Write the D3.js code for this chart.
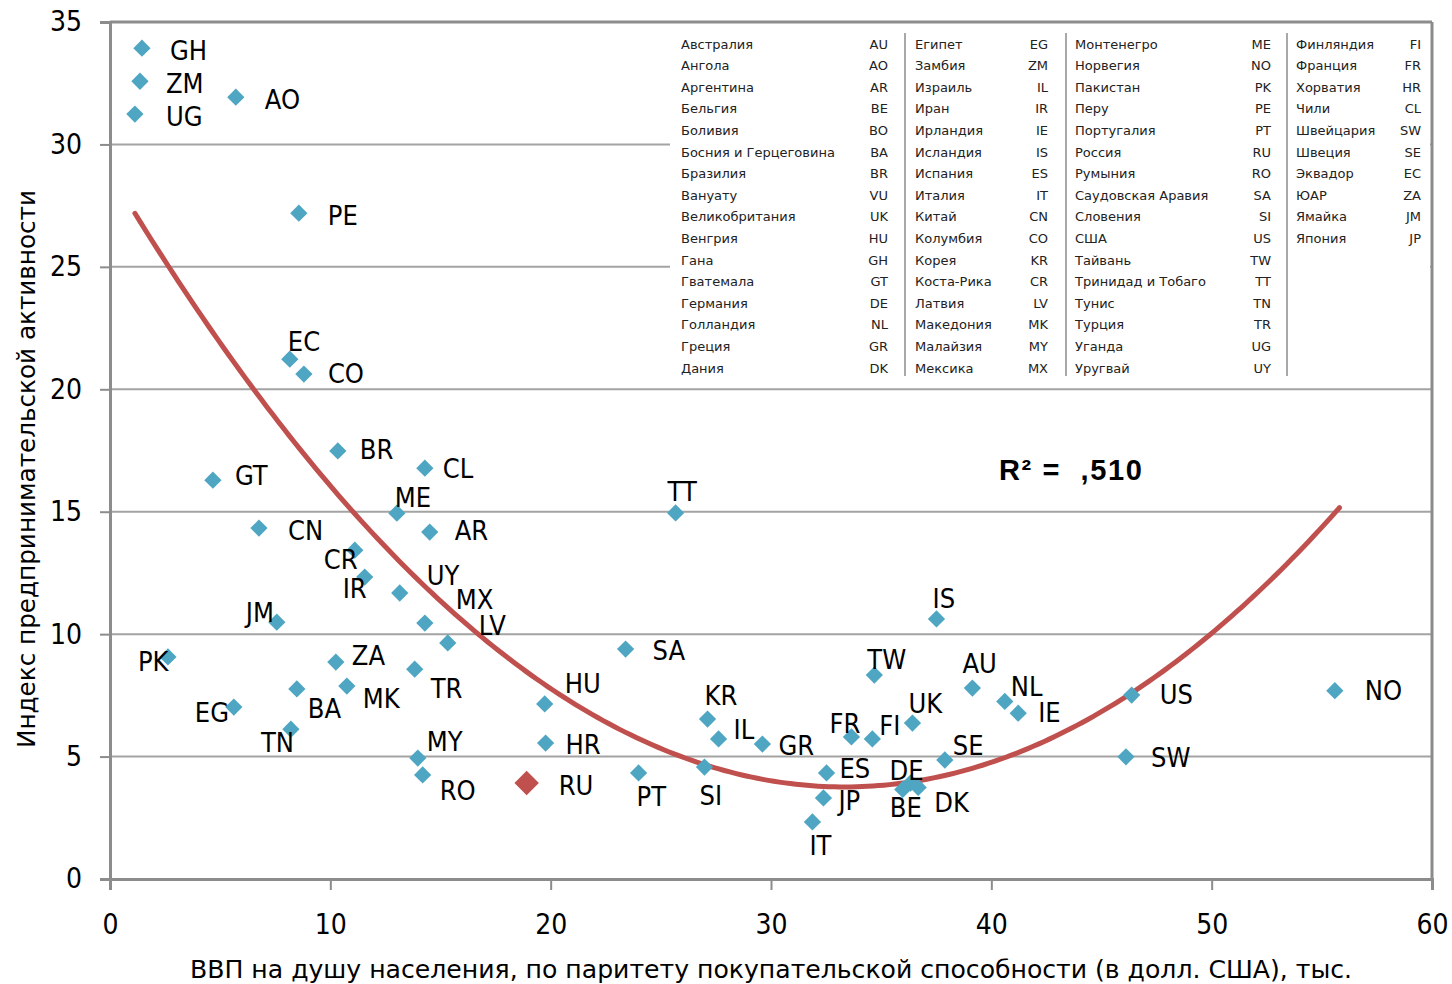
<!DOCTYPE html>
<html>
<head>
<meta charset="utf-8">
<script src="https://cdn.jsdelivr.net/npm/d3@7"></script>
<style>
  body { margin: 0; background: #fff; }
  svg { display: block; }
</style>
</head>
<body>
<svg id="chart"></svg>
<script>
// country codes, GDP per capita (PPP, thousand USD) and entrepreneurship index
const codes = ["GH", "ZM", "UG", "AO", "PE", "EC", "CO", "BR", "CL", "GT", "ME", "AR", "CN", "CR", "IR", "UY",
  "MX", "LV", "JM", "PK", "ZA", "MK", "BA", "TR", "EG", "TN", "MY", "RO", "RU", "HU", "HR", "SA", "TT", "KR",
  "IL", "GR", "PT", "SI", "FR", "FI", "ES", "JP", "IT", "TW", "UK", "IS", "AU", "NL", "IE", "US", "SW", "NO",
  "SE", "DE", "BE", "DK"];
const gdp = [1.45, 1.36, 1.13, 5.71, 8.57, 8.16, 8.80, 10.34, 14.29, 4.67, 13.02, 14.51, 6.76, 11.11, 11.56, 13.15,
  14.29, 15.33, 7.57, 2.63, 10.25, 10.75, 8.48, 13.83, 5.62, 8.21, 13.97, 14.19, 18.91, 19.73, 19.77, 23.40, 25.67, 27.12,
  27.62, 29.61, 23.99, 26.98, 33.65, 34.60, 32.52, 32.38, 31.88, 34.69, 36.42, 37.51, 39.14, 40.61, 41.22, 46.37, 46.11, 55.59,
  37.89, 36.33, 35.98, 36.68];
const tea = [33.93, 32.58, 31.24, 31.93, 27.19, 21.23, 20.62, 17.48, 16.78, 16.29, 14.94, 14.17, 14.33, 13.43, 12.33, 11.68,
  10.45, 9.64, 10.49, 9.07, 8.86, 7.88, 7.76, 8.57, 7.02, 6.12, 4.94, 4.25, 3.92, 7.15, 5.55, 9.39, 14.95, 6.53,
  5.72, 5.51, 4.33, 4.57, 5.80, 5.72, 4.33, 3.31, 2.33, 8.33, 6.37, 10.62, 7.80, 7.25, 6.77, 7.51, 4.99, 7.69,
  4.86, 3.92, 3.66, 3.74];
const highlight = "RU";

// polynomial trend (c0 + c1*x + c2*x^2)
const trendCoef = [28.86, -1.506, 0.02259];
const trendRange = [1.13, 55.8];
const rSquared = "R\u00B2 =  ,510";

const xTicks = [0, 10, 20, 30, 40, 50, 60];
const yTicks = [0, 5, 10, 15, 20, 25, 30, 35];
const xTitle = "ВВП на душу населения, по паритету покупательской способности (в долл. США), тыс.";
const yTitle = "Индекс предпринимательской активности";

// legend: country name / code, four columns
const legendCols = [
  [["Австралия", "AU"], ["Ангола", "AO"], ["Аргентина", "AR"], ["Бельгия", "BE"], ["Боливия", "BO"],
   ["Босния и Герцеговина", "BA"], ["Бразилия", "BR"], ["Вануату", "VU"], ["Великобритания", "UK"], ["Венгрия", "HU"],
   ["Гана", "GH"], ["Гватемала", "GT"], ["Германия", "DE"], ["Голландия", "NL"], ["Греция", "GR"], ["Дания", "DK"]],
  [["Египет", "EG"], ["Замбия", "ZM"], ["Израиль", "IL"], ["Иран", "IR"], ["Ирландия", "IE"], ["Исландия", "IS"],
   ["Испания", "ES"], ["Италия", "IT"], ["Китай", "CN"], ["Колумбия", "CO"], ["Корея", "KR"], ["Коста-Рика", "CR"],
   ["Латвия", "LV"], ["Македония", "MK"], ["Малайзия", "MY"], ["Мексика", "MX"]],
  [["Монтенегро", "ME"], ["Норвегия", "NO"], ["Пакистан", "PK"], ["Перу", "PE"], ["Португалия", "PT"], ["Россия", "RU"],
   ["Румыния", "RO"], ["Саудовская Аравия", "SA"], ["Словения", "SI"], ["США", "US"], ["Тайвань", "TW"],
   ["Тринидад и Тобаго", "TT"], ["Тунис", "TN"], ["Турция", "TR"], ["Уганда", "UG"], ["Уругвай", "UY"]],
  [["Финляндия", "FI"], ["Франция", "FR"], ["Хорватия", "HR"], ["Чили", "CL"], ["Швейцария", "SW"], ["Швеция", "SE"],
   ["Эквадор", "EC"], ["ЮАР", "ZA"], ["Ямайка", "JM"], ["Япония", "JP"]]
];

// label nudges in px relative to the marker (layout only)
const labelNudge = {
  GH: [28, 2], ZM: [26, 2], UG: [31, 2], AO: [29, 2], PE: [29, 2], EC: [-2, -18], CO: [24, -1], BR: [22, -2],
  CL: [18, 0], GT: [22, -5], ME: [-2, -16], AR: [25, -2], CN: [29, 2], CR: [-31, 9], IR: [-22, 11], UY: [27, -18],
  MX: [31, -24], LV: [31, -18], JM: [-31, -10], PK: [-30, 4], ZA: [16, -7], MK: [16, 12], BA: [11, 19], TR: [16, 19],
  EG: [-39, 5], TN: [-30, 13], MY: [9, -17], RO: [17, 15], RU: [32, 2], HU: [20, -21], HR: [20, 1], SA: [27, 1],
  TT: [-8, -22], KR: [-3, -24], IL: [15, -10], GR: [16, 1], PT: [-2, 23], SI: [-5, 28], FR: [-22, -14], FI: [7, -14],
  ES: [13, -5], JP: [15, 2], IT: [-3, 23], TW: [-7, -16], UK: [-4, -20], IS: [-4, -21], AU: [-10, -25], NL: [6, -15],
  IE: [20, -1], US: [28, -1], SW: [25, 0], NO: [30, 0], SE: [8, -15], DE: [-21, -13], BE: [-13, 18], DK: [16, 15]
};

const W = 1452, H = 984;
const margin = { top: 22, right: 20, bottom: 105, left: 110 },
  width = W - margin.left - margin.right,
  height = H - margin.top - margin.bottom;

const svg = d3.select("#chart").attr("width", W).attr("height", H);
const g = svg.append("g").attr("transform", `translate(${margin.left},${margin.top})`);

const x = d3.scaleLinear().domain([0, 60]).range([0, width]);
const y = d3.scaleLinear().domain([0, 35]).range([height, 0]);

// gridlines
g.append("g")
  .selectAll("line")
  .data(yTicks.slice(1))
  .join("line")
  .attr("x1", 0).attr("x2", width)
  .attr("y1", d => y(d)).attr("y2", d => y(d))
  .attr("stroke", "#a3a3a3").attr("stroke-width", 2);

// legend box (hides gridlines behind it)
const lg = g.append("g").attr("transform", `translate(${x(0) + 560},0)`);
lg.append("rect").attr("x", 0).attr("y", 3).attr("width", width - 560 - 2).attr("height", 356).attr("fill", "#fff");
const colX = [11, 245, 405, 626];
const codeX = [218, 378, 601, 751];
const rowY = i => 22 + i * 21.6;
legendCols.forEach((col, ci) => {
  const cg = lg.append("g").attr("font-family", "DejaVu Sans, sans-serif").attr("font-size", 13).attr("fill", "#222");
  cg.selectAll("text.nm").data(col).join("text").attr("class", "nm")
    .attr("x", colX[ci]).attr("y", (d, i) => rowY(i)).attr("dy", "0.35em").text(d => d[0]);
  cg.selectAll("text.cd").data(col).join("text").attr("class", "cd")
    .attr("x", codeX[ci]).attr("y", (d, i) => rowY(i)).attr("dy", "0.35em").attr("text-anchor", "end").text(d => d[1]);
});
[235, 396, 617].forEach(sx => {
  lg.append("line").attr("x1", sx).attr("x2", sx).attr("y1", 11).attr("y2", 354)
    .attr("stroke", "#a8a8a8").attr("stroke-width", 2);
});

// frame (top and right)
g.append("line").attr("x1", 0).attr("x2", width).attr("y1", 0).attr("y2", 0).attr("stroke", "#8c8c8c").attr("stroke-width", 3);
g.append("line").attr("x1", width).attr("x2", width).attr("y1", 0).attr("y2", height).attr("stroke", "#8c8c8c").attr("stroke-width", 3);

// axes
const xAxis = g.append("g").attr("transform", `translate(0,${height})`)
  .call(d3.axisBottom(x).tickValues(xTicks).tickSize(11).tickPadding(24));
const yAxis = g.append("g")
  .call(d3.axisLeft(y).tickValues(yTicks).tickSize(10).tickPadding(18));
[xAxis, yAxis].forEach(a => {
  a.select(".domain").attr("stroke", "#8c8c8c").attr("stroke-width", 3);
  a.selectAll(".tick line").attr("stroke", "#8c8c8c").attr("stroke-width", 2);
  a.selectAll("text").attr("font-family", "DejaVu Sans Condensed, DejaVu Sans, sans-serif").attr("font-size", 28).attr("fill", "#000");
});

// trend curve
const trendX = d3.range(trendRange[0], trendRange[1], 0.25).concat([trendRange[1]]);
const poly = v => trendCoef[0] + trendCoef[1] * v + trendCoef[2] * v * v;
g.append("path")
  .datum(trendX)
  .attr("fill", "none")
  .attr("stroke", "#c0504d")
  .attr("stroke-width", 5)
  .attr("stroke-linecap", "round")
  .attr("d", d3.line().x(d => x(d)).y(d => y(poly(d))));

// points
const pts = codes.map((c, i) => ({ code: c, gdp: gdp[i], tea: tea[i] }));
const diamond = d3.symbol().type(d3.symbolDiamond2);
g.append("g")
  .selectAll("path")
  .data(pts)
  .join("path")
  .attr("transform", d => `translate(${x(d.gdp)},${y(d.tea)})`)
  .attr("d", d => diamond.size(d.code === highlight ? 380 : 190)())
  .attr("fill", d => d.code === highlight ? "#c0504d" : "#4fa6c3");

// point labels
g.append("g")
  .attr("font-family", "DejaVu Sans Condensed, DejaVu Sans, sans-serif")
  .attr("font-size", 27)
  .selectAll("text")
  .data(pts)
  .join("text")
  .attr("x", d => x(d.gdp) + (labelNudge[d.code] || [22, 0])[0])
  .attr("y", d => y(d.tea) + (labelNudge[d.code] || [22, 0])[1])
  .attr("dy", "0.36em")
  .attr("fill", "#000")
  .text(d => d.code);

// R squared
g.append("text")
  .attr("x", 889).attr("y", 448).attr("dy", "0.36em")
  .attr("font-family", "Liberation Sans, Arial, sans-serif").attr("font-weight", "bold").attr("font-size", 29)
  .attr("textLength", 143).attr("lengthAdjust", "spacing")
  .attr("xml:space", "preserve")
  .style("white-space", "pre")
  .text(rSquared);

// axis titles
svg.append("text")
  .attr("x", 190).attr("y", 978)
  .attr("textLength", 1162).attr("lengthAdjust", "spacingAndGlyphs")
  .attr("font-family", "DejaVu Sans Condensed, DejaVu Sans, sans-serif").attr("font-size", 25)
  .text(xTitle);
svg.append("text")
  .attr("transform", "translate(35,748) rotate(-90)")
  .attr("textLength", 558).attr("lengthAdjust", "spacingAndGlyphs")
  .attr("font-family", "DejaVu Sans Condensed, DejaVu Sans, sans-serif").attr("font-size", 25)
  .text(yTitle);
</script>
</body>
</html>
